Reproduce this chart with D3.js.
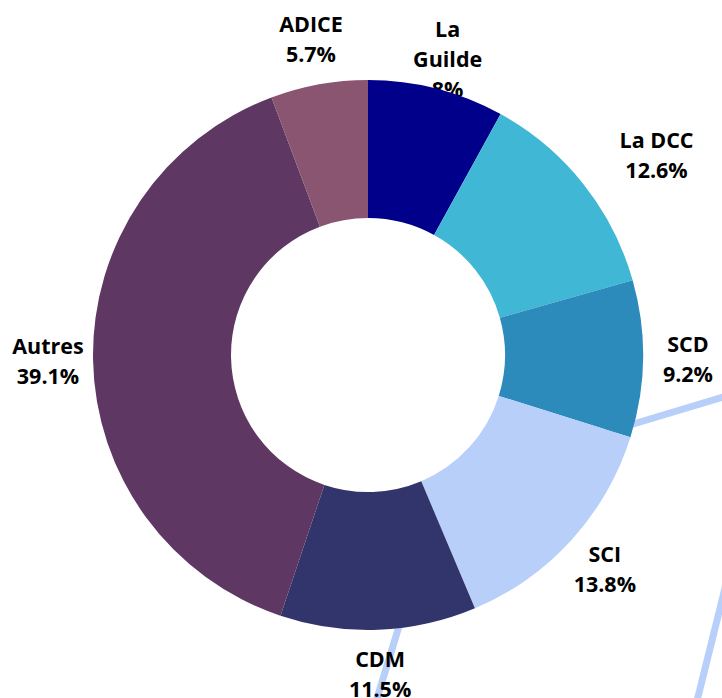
<!DOCTYPE html>
<html>
<head>
<meta charset="utf-8">
<script src="https://cdn.jsdelivr.net/npm/d3@7/dist/d3.min.js"></script>
<style>
  body { margin: 0; background: #fff; }
  svg { display: block; font-family: "Open Sans", sans-serif; }
</style>
</head>
<body>
<script>
var categories = ["La Guilde", "La DCC", "SCD", "SCI", "CDM", "Autres", "ADICE"];
var shares = [8, 12.6, 9.2, 13.8, 11.5, 39.1, 5.7];
var shareLabels = ["8%", "12.6%", "9.2%", "13.8%", "11.5%", "39.1%", "5.7%"];
var colors = ["#00008b", "#41b7d6", "#2c8bba", "#b8cff9", "#32356c", "#5e3763", "#8a5571"];

(function() {
    var width = 722, height = 698;
    var cx = 368, cy = 355, outerR = 275, innerR = 137;
    var labelR = 320, lineH = 30, wrapWidth = 85;

    var svg = d3.select("body").append("svg")
        .attr("width", width)
        .attr("height", height);

    // decorative background strokes
    var deco = svg.append("g")
        .attr("stroke", "#b8cff9")
        .attr("stroke-width", 7)
        .attr("fill", "none");
    [[[590, 437], [730, 395]], [[407, 600], [375, 705]], [[732, 560], [696, 705]]].forEach(function(l) {
        deco.append("path").attr("d", d3.line()(l));
    });

    var data = categories.map(function(c, i) {
        return { name: c, value: shares[i], label: shareLabels[i], color: colors[i] };
    });

    var pie = d3.pie().sort(null).value(function(d) { return d.value; });
    var arcs = pie(data);
    var arc = d3.arc().innerRadius(innerR).outerRadius(outerR);

    var g = svg.append("g").attr("transform", "translate(" + cx + "," + cy + ")");

    // labels first, slices sit on top of them
    var labelShift = { "La DCC": 38 };
    var labels = g.append("g")
        .attr("font-size", 21.5)
        .attr("font-weight", 700)
        .attr("fill", "#000")
        .attr("text-anchor", "middle");

    arcs.forEach(function(a) {
        var ang = (a.startAngle + a.endAngle) / 2;
        var big = a.endAngle - a.startAngle > Math.PI / 2;
        // big slices: put the label on the horizontal if the slice covers it
        if (big) {
            [Math.PI / 2, 3 * Math.PI / 2].forEach(function(h) {
                if (h > a.startAngle && h < a.endAngle) ang = h;
            });
        }
        var x = labelR * Math.sin(ang) + (labelShift[a.data.name] || 0);
        var y = -labelR * Math.cos(ang) + (big ? 7 : 0);

        var t = labels.append("text").attr("x", x).attr("y", y - lineH / 2 + 7);
        var words = a.data.name.split(" ");
        var lines = [], cur = [];
        var probe = t.append("tspan");
        words.forEach(function(w) {
            var test = cur.concat([w]).join(" ");
            probe.text(test);
            if (probe.node().getComputedTextLength() > wrapWidth && cur.length) {
                lines.push(cur.join(" "));
                cur = [w];
            } else {
                cur.push(w);
            }
        });
        lines.push(cur.join(" "));
        probe.remove();
        lines.push(a.data.label);
        lines.forEach(function(s, i) {
            t.append("tspan")
                .attr("x", x)
                .attr("dy", i === 0 ? 0 : lineH)
                .text(s);
        });
    });

    g.selectAll("path.slice")
        .data(arcs)
        .enter()
        .append("path")
        .attr("class", "slice")
        .attr("d", arc)
        .attr("fill", function(d) { return d.data.color; });
})();
</script>
</body>
</html>
